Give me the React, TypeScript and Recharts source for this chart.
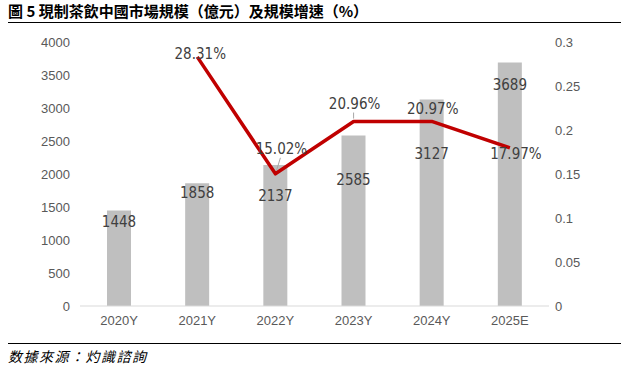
import React from 'react';
import {
  ComposedChart,
  Bar,
  Line,
  XAxis,
  YAxis,
  LabelList,
} from 'recharts';

const years = ['2020Y', '2021Y', '2022Y', '2023Y', '2024Y', '2025E'];
const marketSize = [1448, 1858, 2137, 2585, 3127, 3689];
const growthRate = [null, 0.2831, 0.1502, 0.2096, 0.2097, 0.1797];
const leftTicks = [0, 500, 1000, 1500, 2000, 2500, 3000, 3500, 4000];
const rightTicks = [0, 0.05, 0.1, 0.15, 0.2, 0.25, 0.3];

// label nudges (px) so the numbers don't sit on the red line
const barLabelDy = [12, 10, 31, 45, 54, 22];
const lineLabelOffset: [number, number][] = [
  [0, 0],
  [3, -3],
  [6, -25],
  [1, -18],
  [1, -12],
  [6, 6],
];
const leaderIdx = [2, 3];

const data = years.map((y, i) => ({
  year: y,
  size: marketSize[i],
  growth: growthRate[i],
}));

const textColor = '#595959';
const font = '"Liberation Sans", Arial, sans-serif';
const narrow = '"Liberation Sans Narrow", "DejaVu Sans Condensed", Arial, sans-serif';

const BarLabel = (props: any) => {
  const { x, y, width, value, index } = props;
  return (
    <text
      x={x + width / 2}
      y={y + barLabelDy[index]}
      textAnchor="middle"
      dominantBaseline="central"
      fill="#404040"
      fontSize={15}
      fontFamily={narrow}
    >
      {value}
    </text>
  );
};

const LineLabel = (props: any) => {
  const { x, y, value, index } = props;
  if (value == null) return null;
  const [dx, dy] = lineLabelOffset[index];
  return (
    <g>
      {leaderIdx.includes(index) && (
        <line
          x1={x + (index === 2 ? 5 : 0)}
          y1={y + dy + 9}
          x2={x + (index === 2 ? 1 : 0)}
          y2={y - 3}
          stroke="#A6A6A6"
          strokeWidth={1}
        />
      )}
      <text
        x={x + dx}
        y={y + dy}
        textAnchor="middle"
        dominantBaseline="central"
        fill="#404040"
        fontSize={15}
        fontFamily={narrow}
      >
        {(value * 100).toFixed(2) + '%'}
      </text>
    </g>
  );
};

export default function App() {
  return (
    <div
      style={{
        position: 'absolute',
        top: 0,
        left: 0,
        width: 621,
        height: 367,
        background: '#fff',
      }}
    >
      <div
        style={{
          position: 'absolute',
          left: 8,
          top: 2,
          fontFamily: '"Noto Sans CJK TC", sans-serif',
          fontWeight: 700,
          fontSize: 15,
          letterSpacing: 0,
          color: '#000',
          lineHeight: '18px',
          whiteSpace: 'nowrap',
        }}
      >
        圖 5 現制茶飲中國市場規模（億元）及規模增速（%）
      </div>
      <div
        style={{
          position: 'absolute',
          left: 8,
          right: 0,
          top: 22,
          borderTop: '1.5px solid #000',
        }}
      />
      <div style={{ position: 'absolute', left: 0, top: 0 }}>
        <ComposedChart
          width={621}
          height={340}
          data={data}
          margin={{ top: 42, right: 0, bottom: 4, left: 0 }}
        >
          <XAxis
            dataKey="year"
            axisLine={{ stroke: '#D9D9D9' }}
            tickLine={false}
            tickSize={0}
            tickMargin={10}
            height={30}
            tick={{ fill: textColor, fontSize: 13, fontFamily: font }}
            interval={0}
          />
          <YAxis
            yAxisId="left"
            domain={[0, 4000]}
            ticks={leftTicks}
            axisLine={false}
            tickLine={false}
            tickSize={0}
            tickMargin={10}
            width={80}
            tick={{ fill: textColor, fontSize: 13, fontFamily: font }}
          />
          <YAxis
            yAxisId="right"
            orientation="right"
            domain={[0, 0.3]}
            ticks={rightTicks}
            axisLine={false}
            tickLine={false}
            tickSize={0}
            tickMargin={6}
            width={72}
            tick={{ fill: textColor, fontSize: 13, fontFamily: font, textAnchor: 'start' }}
          />
          <Bar
            yAxisId="left"
            dataKey="size"
            fill="#BFBFBF"
            barSize={24}
            isAnimationActive={false}
          >
            <LabelList dataKey="size" content={<BarLabel />} />
          </Bar>
          <Line
            yAxisId="right"
            dataKey="growth"
            stroke="#C00000"
            strokeWidth={3.5}
            dot={false}
            activeDot={false}
            strokeLinejoin="round"
            isAnimationActive={false}
          >
            <LabelList dataKey="growth" content={<LineLabel />} />
          </Line>
        </ComposedChart>
      </div>
      <div
        style={{
          position: 'absolute',
          left: 8,
          right: 0,
          top: 343,
          borderTop: '1px solid #000',
        }}
      />
      <div
        style={{
          position: 'absolute',
          left: 8,
          top: 347,
          fontFamily: '"Noto Sans CJK TC", sans-serif',
          fontStyle: 'italic',
          fontSize: 14,
          letterSpacing: 1.5,
          color: '#000',
          lineHeight: '18px',
          whiteSpace: 'nowrap',
        }}
      >
        数據來源：灼識諮詢
      </div>
    </div>
  );
}
